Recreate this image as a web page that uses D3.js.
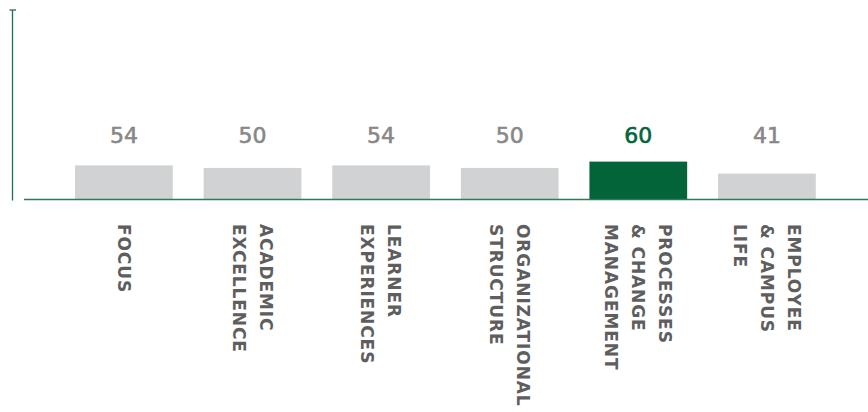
<!DOCTYPE html>
<html>
<head>
<meta charset="utf-8">
<script src="https://cdn.jsdelivr.net/npm/d3@7"></script>
<style>
	body { margin: 0; background: #fff; }
	svg { display: block; }
</style>
</head>
<body>
<div id="graphContainer"></div>
<script>
// chart data
var categories = ["FOCUS", "ACADEMIC EXCELLENCE", "LEARNER EXPERIENCES", "ORGANIZATIONAL STRUCTURE", "PROCESSES & CHANGE MANAGEMENT", "EMPLOYEE & CAMPUS LIFE"];
var labelLines = [["FOCUS"], ["ACADEMIC", "EXCELLENCE"], ["LEARNER", "EXPERIENCES"], ["ORGANIZATIONAL", "STRUCTURE"], ["PROCESSES", "& CHANGE", "MANAGEMENT"], ["EMPLOYEE", "& CAMPUS", "LIFE"]];
var values = [54, 50, 54, 50, 60, 41];
var highlight = "PROCESSES & CHANGE MANAGEMENT";
var yMax = 300;

window.onload = function()
{
	DrawChart();
}

function DrawChart()
{
	var width = 868;
	var height = 412;
	var green = "#03643a";
	var axisGreen = "#1f6e4a";
	var grey = "#d1d2d3";

	var svg = d3.select("#graphContainer").append("svg")
		.attr("width", width)
		.attr("height", height);

	var x = d3.scaleBand()
		.domain(categories)
		.range([59.6, 831.2])
		.paddingInner(0.24)
		.paddingOuter(0.12);

	var y = d3.scaleLinear()
		.domain([0, yMax])
		.range([199.5, 10]);

	/* y axis line with top tick */
	svg.append("line")
		.attr("x1", 12.5).attr("x2", 12.5)
		.attr("y1", y(yMax)).attr("y2", y(0) + 1)
		.attr("stroke", axisGreen)
		.attr("stroke-width", 1.3);
	svg.append("line")
		.attr("x1", 9.5).attr("x2", 16)
		.attr("y1", y(yMax)).attr("y2", y(yMax))
		.attr("stroke", axisGreen)
		.attr("stroke-width", 1.3);

	/* bars */
	svg.selectAll(".bar")
		.data(values).enter()
		.append("rect")
		.attr("class", "bar")
		.attr("x", (d, i) => x(categories[i]))
		.attr("width", x.bandwidth())
		.attr("y", d => y(d))
		.attr("height", d => y(0) - y(d))
		.attr("fill", (d, i) => categories[i] == highlight ? green : grey);

	/* baseline */
	svg.append("line")
		.attr("x1", 24).attr("x2", width)
		.attr("y1", y(0)).attr("y2", y(0))
		.attr("stroke", "#2f7a58")
		.attr("stroke-width", 1.5);

	/* value labels, all on one baseline */
	svg.selectAll(".value")
		.data(values).enter()
		.append("text")
		.attr("class", "value")
		.attr("x", (d, i) => x(categories[i]) + x.bandwidth() / 2)
		.attr("y", 143)
		.attr("text-anchor", "middle")
		.style("font-family", "'DejaVu Sans', sans-serif")
		.style("font-size", "22px")
		.style("fill", (d, i) => categories[i] == highlight ? green : "#888888")
		.style("stroke", (d, i) => categories[i] == highlight ? green : "#888888")
		.style("stroke-width", "0.6px")
		.text(d => d);

	/* rotated category labels */
	var lineStep = 27;
	var cap = 12.5;
	var labels = svg.selectAll(".cat")
		.data(labelLines).enter()
		.append("g")
		.attr("class", "cat")
		.attr("transform", (d, i) => `translate(${x(categories[i]) + x.bandwidth() / 2}, 224) rotate(90)`);

	labels.each(function(lines)
	{
		var span = (lines.length - 1) * lineStep + cap;
		var y0 = cap - span / 2;
		d3.select(this).selectAll("text")
			.data(lines).enter()
			.append("text")
			.attr("x", 0)
			.attr("y", (t, j) => y0 + j * lineStep)
			.style("font-family", "'DejaVu Sans', sans-serif")
			.style("font-weight", "bold")
			.style("font-size", "17px")
			.style("letter-spacing", "0.9px")
			.style("fill", "#5e5e5e")
			.text(t => t);
	});
}
</script>
</body>
</html>
